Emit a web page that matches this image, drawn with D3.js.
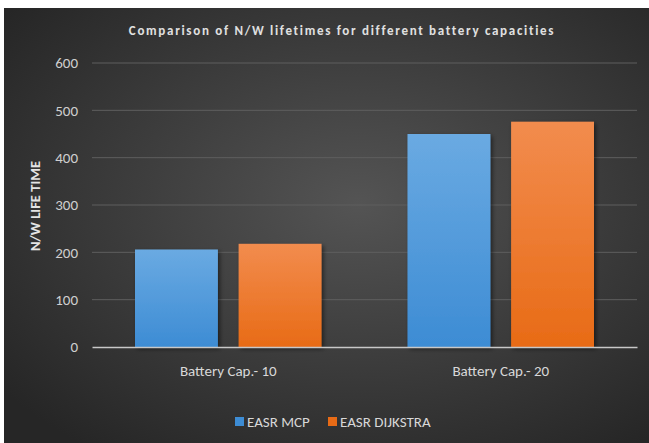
<!DOCTYPE html>
<html>
<head>
<meta charset="utf-8">
<script src="https://cdn.jsdelivr.net/npm/d3@7"></script>
<style>
body { margin:0; background:#fff; }
svg { display:block; }
svg text { font-family: Calibri, Carlito, "Liberation Sans", sans-serif; }
</style>
</head>
<body>
<svg id="chart" width="649" height="443"></svg>
<script>
var categories = ["Battery Cap.- 10", "Battery Cap.- 20"];
var seriesNames = ["EASR MCP", "EASR DIJKSTRA"];
var mcpValues = [206, 450];
var dijkstraValues = [218, 476];
var yTicks = [0, 100, 200, 300, 400, 500, 600];

(function() {
var svg = d3.select("#chart");
var W = 649, H = 443;

var defs = svg.append("defs");
var bg = defs.append("radialGradient").attr("id", "bg")
  .attr("cx", "55%").attr("cy", "45%").attr("r", "70%");
bg.append("stop").attr("offset", "0%").attr("stop-color", "#545454");
bg.append("stop").attr("offset", "100%").attr("stop-color", "#262626");

var colors = [["#6aaae2", "#3d8cd4"], ["#f28c4e", "#e86b16"]];
colors.forEach(function(c, i) {
  var g = defs.append("linearGradient").attr("id", "bar" + i)
    .attr("x1", 0).attr("y1", 0).attr("x2", 0).attr("y2", 1);
  g.append("stop").attr("offset", "0%").attr("stop-color", c[0]);
  g.append("stop").attr("offset", "100%").attr("stop-color", c[1]);
});
var sh = defs.append("filter").attr("id", "shadow")
  .attr("x", "-10%").attr("y", "-10%").attr("width", "130%").attr("height", "120%");
sh.append("feDropShadow").attr("dx", 2).attr("dy", 2).attr("stdDeviation", 2)
  .attr("flood-color", "#000").attr("flood-opacity", 0.5);

svg.append("rect").attr("x", 4).attr("y", 8).attr("width", W - 4).attr("height", H - 8)
  .attr("fill", "url(#bg)");

var plotL = 92, plotR = 637, plotT = 63, plotB = 347;

var x0 = d3.scaleBand().domain(categories).range([plotL, plotR]).paddingInner(0).paddingOuter(0);
var x1 = d3.scaleBand().domain(seriesNames).range([43, x0.bandwidth() - 43]).paddingInner(0.2);
var y = d3.scaleLinear().domain([0, 600]).range([plotB, plotT]);

// gridlines
svg.append("g").selectAll("line").data(yTicks.filter(function(d) { return d > 0; }))
  .enter().append("line")
  .attr("x1", plotL).attr("x2", plotR)
  .attr("y1", function(d) { return y(d); }).attr("y2", function(d) { return y(d); })
  .attr("stroke", "#5e5e5e").attr("stroke-width", 1);

// y tick labels
var yAxis = svg.append("g").attr("transform", "translate(" + plotL + ",0)")
  .call(d3.axisLeft(y).tickValues(yTicks).tickSize(0).tickPadding(14));
yAxis.select(".domain").remove();
yAxis.attr("font-family", null);
yAxis.selectAll("text").attr("fill", "#cfcfcf").style("font-size", "15px");

// bars
var rows = categories.map(function(c, i) { return { cat: c, vals: [mcpValues[i], dijkstraValues[i]] }; });
var groups = svg.append("g").selectAll("g").data(rows).enter().append("g")
  .attr("transform", function(d) { return "translate(" + x0(d.cat) + ",0)"; });
groups.selectAll("rect").data(function(d) { return d.vals; }).enter().append("rect")
  .attr("x", function(d, i) { return x1(seriesNames[i]); })
  .attr("width", x1.bandwidth())
  .attr("y", function(d) { return y(d); })
  .attr("height", function(d) { return y(0) - y(d); })
  .attr("fill", function(d, i) { return "url(#bar" + i + ")"; })
  .attr("filter", "url(#shadow)");

// x axis
var xAxis = svg.append("g").attr("transform", "translate(0," + plotB + ")")
  .call(d3.axisBottom(x0).tickSize(0).tickPadding(18));
xAxis.attr("font-family", null);
xAxis.select(".domain").attr("stroke", "#c8c8c8").attr("stroke-width", 1.5);
xAxis.selectAll("text").attr("fill", "#d8d8d8").style("font-size", "15px");

// title
svg.append("text").attr("x", 342).attr("y", 35).attr("text-anchor", "middle")
  .attr("fill", "#e0e0e0").style("font-size", "13px").style("font-weight", "bold")
  .style("letter-spacing", "1.7px")
  .text("Comparison of N/W lifetimes for different battery capacities");

// y title
svg.append("text").attr("transform", "translate(40,206) rotate(-90)")
  .attr("text-anchor", "middle").attr("fill", "#e4e4e4")
  .style("font-size", "14.5px").style("font-weight", "bold")
  .text("N/W LIFE TIME");

// legend
var legendX = [235, 328];
var lg = svg.append("g").selectAll("g").data(seriesNames).enter().append("g")
  .attr("transform", function(d, i) { return "translate(" + legendX[i] + ",417)"; });
lg.append("rect").attr("width", 9).attr("height", 9).attr("y", 0)
  .attr("fill", function(d, i) { return colors[i][1]; });
lg.append("text").attr("x", 12).attr("y", 9.5).attr("fill", "#d8d8d8")
  .style("font-size", "15px").text(function(d) { return d; });
})();
</script>
</body>
</html>
